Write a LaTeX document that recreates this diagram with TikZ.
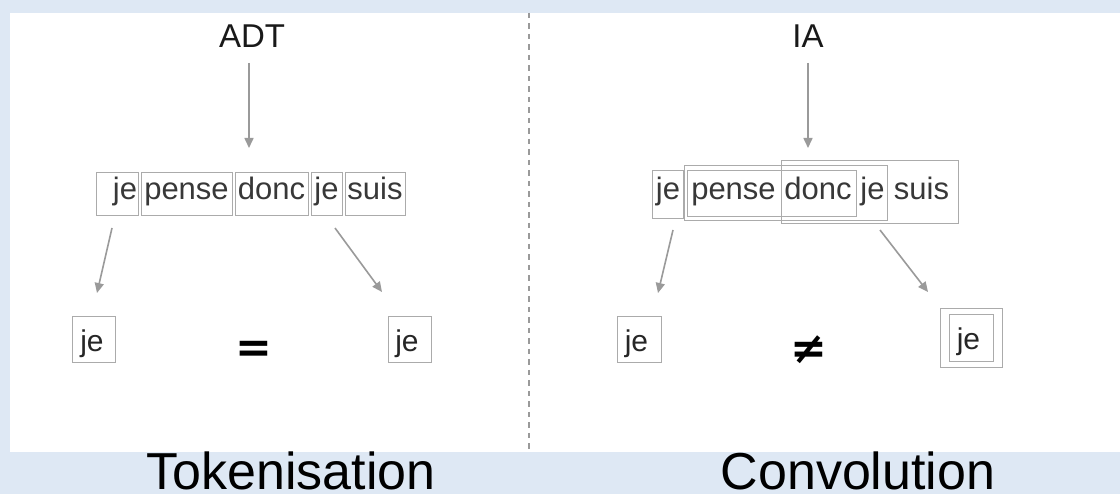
\documentclass[tikz,border=0pt]{standalone}
\usepackage{fontspec}
\setmainfont{Liberation Sans}
\newfontfamily\symfont{DejaVu Sans}
\usetikzlibrary{arrows.meta}
\definecolor{bgblue}{HTML}{DEE8F4}
\definecolor{boxgray}{HTML}{ABABAB}
\definecolor{arrgray}{HTML}{9A9A9A}
\definecolor{txtgray}{HTML}{383838}
\begin{document}
\begin{tikzpicture}[x=1pt,y=-1pt,
  wordbox/.style={draw=boxgray, line width=0.9pt, inner sep=0pt, text height=21pt, text depth=8pt, minimum height=43pt, font=\fontsize{31}{36}\selectfont, text=txtgray},
  frame/.style={draw=boxgray, line width=0.9pt, inner sep=0pt},
  word/.style={anchor=base, inner sep=0pt, font=\fontsize{31}{36}\selectfont, text=txtgray},
  bword/.style={anchor=base, inner sep=0pt, font=\fontsize{30}{36}\selectfont, text=black!85},
  arr/.style={draw=arrgray, line width=1.6pt, -{Triangle[length=10pt,width=9pt]}},
  title/.style={anchor=base, inner sep=0pt, font=\fontsize{33}{38}\selectfont, text=black!90},
  caption/.style={anchor=base, inner sep=0pt, font=\fontsize{52}{58}\selectfont},
  sym/.style={anchor=base, inner sep=0pt, font=\symfont\bfseries\fontsize{44}{50}\selectfont}
]
\useasboundingbox (0,0) rectangle (1120,494);
\fill[bgblue] (0,0) rectangle (1120,494);
\fill[white] (10,13) rectangle (1120,452);
\coordinate (sepTop) at (529,13);
\coordinate (sepBot) at (529,452);
\draw[arrgray, line width=1.1pt, dash pattern=on 5.5pt off 5pt] (sepTop) -- (sepBot);

% ---------- left: ADT ----------
\node[title] (adt) at (252,48) {ADT};
\node[wordbox, minimum width=42pt, text width=40pt, align=right] (l1) at (117,193.5) {je};
\node[wordbox, minimum width=91pt] (l2) at (186.5,193.5) {pense};
\node[wordbox, minimum width=73pt] (l3) at (271.5,193.5) {donc};
\node[wordbox, minimum width=31pt] (l4) at (326.5,193.5) {je};
\node[wordbox, minimum width=60pt] (l5) at (375,193.5) {suis};

\coordinate (la0s) at (249,63);
\coordinate (la0e) at (249,148);
\coordinate (la1s) at (112,228);
\coordinate (la1e) at (97,293);
\coordinate (la2s) at (335,228);
\coordinate (la2e) at (382,292);
\draw[arr] (la0s) -- (la0e);
\draw[arr] (la1s) -- (la1e);
\draw[arr] (la2s) -- (la2e);

\node[frame, minimum width=43pt, minimum height=46pt] (lb1) at (93.5,339.5) {};
\node[bword] (lb1t) at (92,352) {je};
\node[frame, minimum width=43pt, minimum height=46pt] (lb2) at (410,339.5) {};
\node[bword] (lb2t) at (407,352) {je};
\node[sym] (eq) at (254,363) {=};

% ---------- right: IA ----------
\node[title] (ia) at (808,48) {IA};
\node[frame, minimum width=31pt, minimum height=48pt] (r1) at (667.5,194) {};
\node[frame, minimum width=169pt, minimum height=46pt] (r2) at (771.5,193) {};
\node[frame, minimum width=203pt, minimum height=55pt] (r3) at (785.5,192.5) {};
\node[frame, minimum width=177pt, minimum height=63pt] (r4) at (869.5,191.5) {};
\node[word] (w1) at (668,200) {je};
\node[word] (w2) at (733.5,200) {pense};
\node[word] (w3) at (818,200) {donc};
\node[word] (w4) at (872.5,200) {je};
\node[word] (w5) at (921.5,200) {suis};

\coordinate (ra0s) at (808,63);
\coordinate (ra0e) at (808,148);
\coordinate (ra1s) at (673,230);
\coordinate (ra1e) at (658,293);
\coordinate (ra2s) at (880,230);
\coordinate (ra2e) at (928,292);
\draw[arr] (ra0s) -- (ra0e);
\draw[arr] (ra1s) -- (ra1e);
\draw[arr] (ra2s) -- (ra2e);

\node[frame, minimum width=44pt, minimum height=46pt] (rb1) at (639,339.5) {};
\node[bword] (rb1t) at (636.5,352) {je};
\node[sym] (neq) at (809,364) {≠};
\node[frame, minimum width=62pt, minimum height=59pt] (rb2o) at (971,337.5) {};
\node[frame, minimum width=44pt, minimum height=47pt] (rb2i) at (971,337.5) {};
\node[bword] (rb2t) at (968.5,350) {je};

% ---------- captions ----------
\node[caption] (tok) at (291,489) {Tokenisation};
\node[caption] (conv) at (858,489) {Convolution};
\end{tikzpicture}
\end{document}
